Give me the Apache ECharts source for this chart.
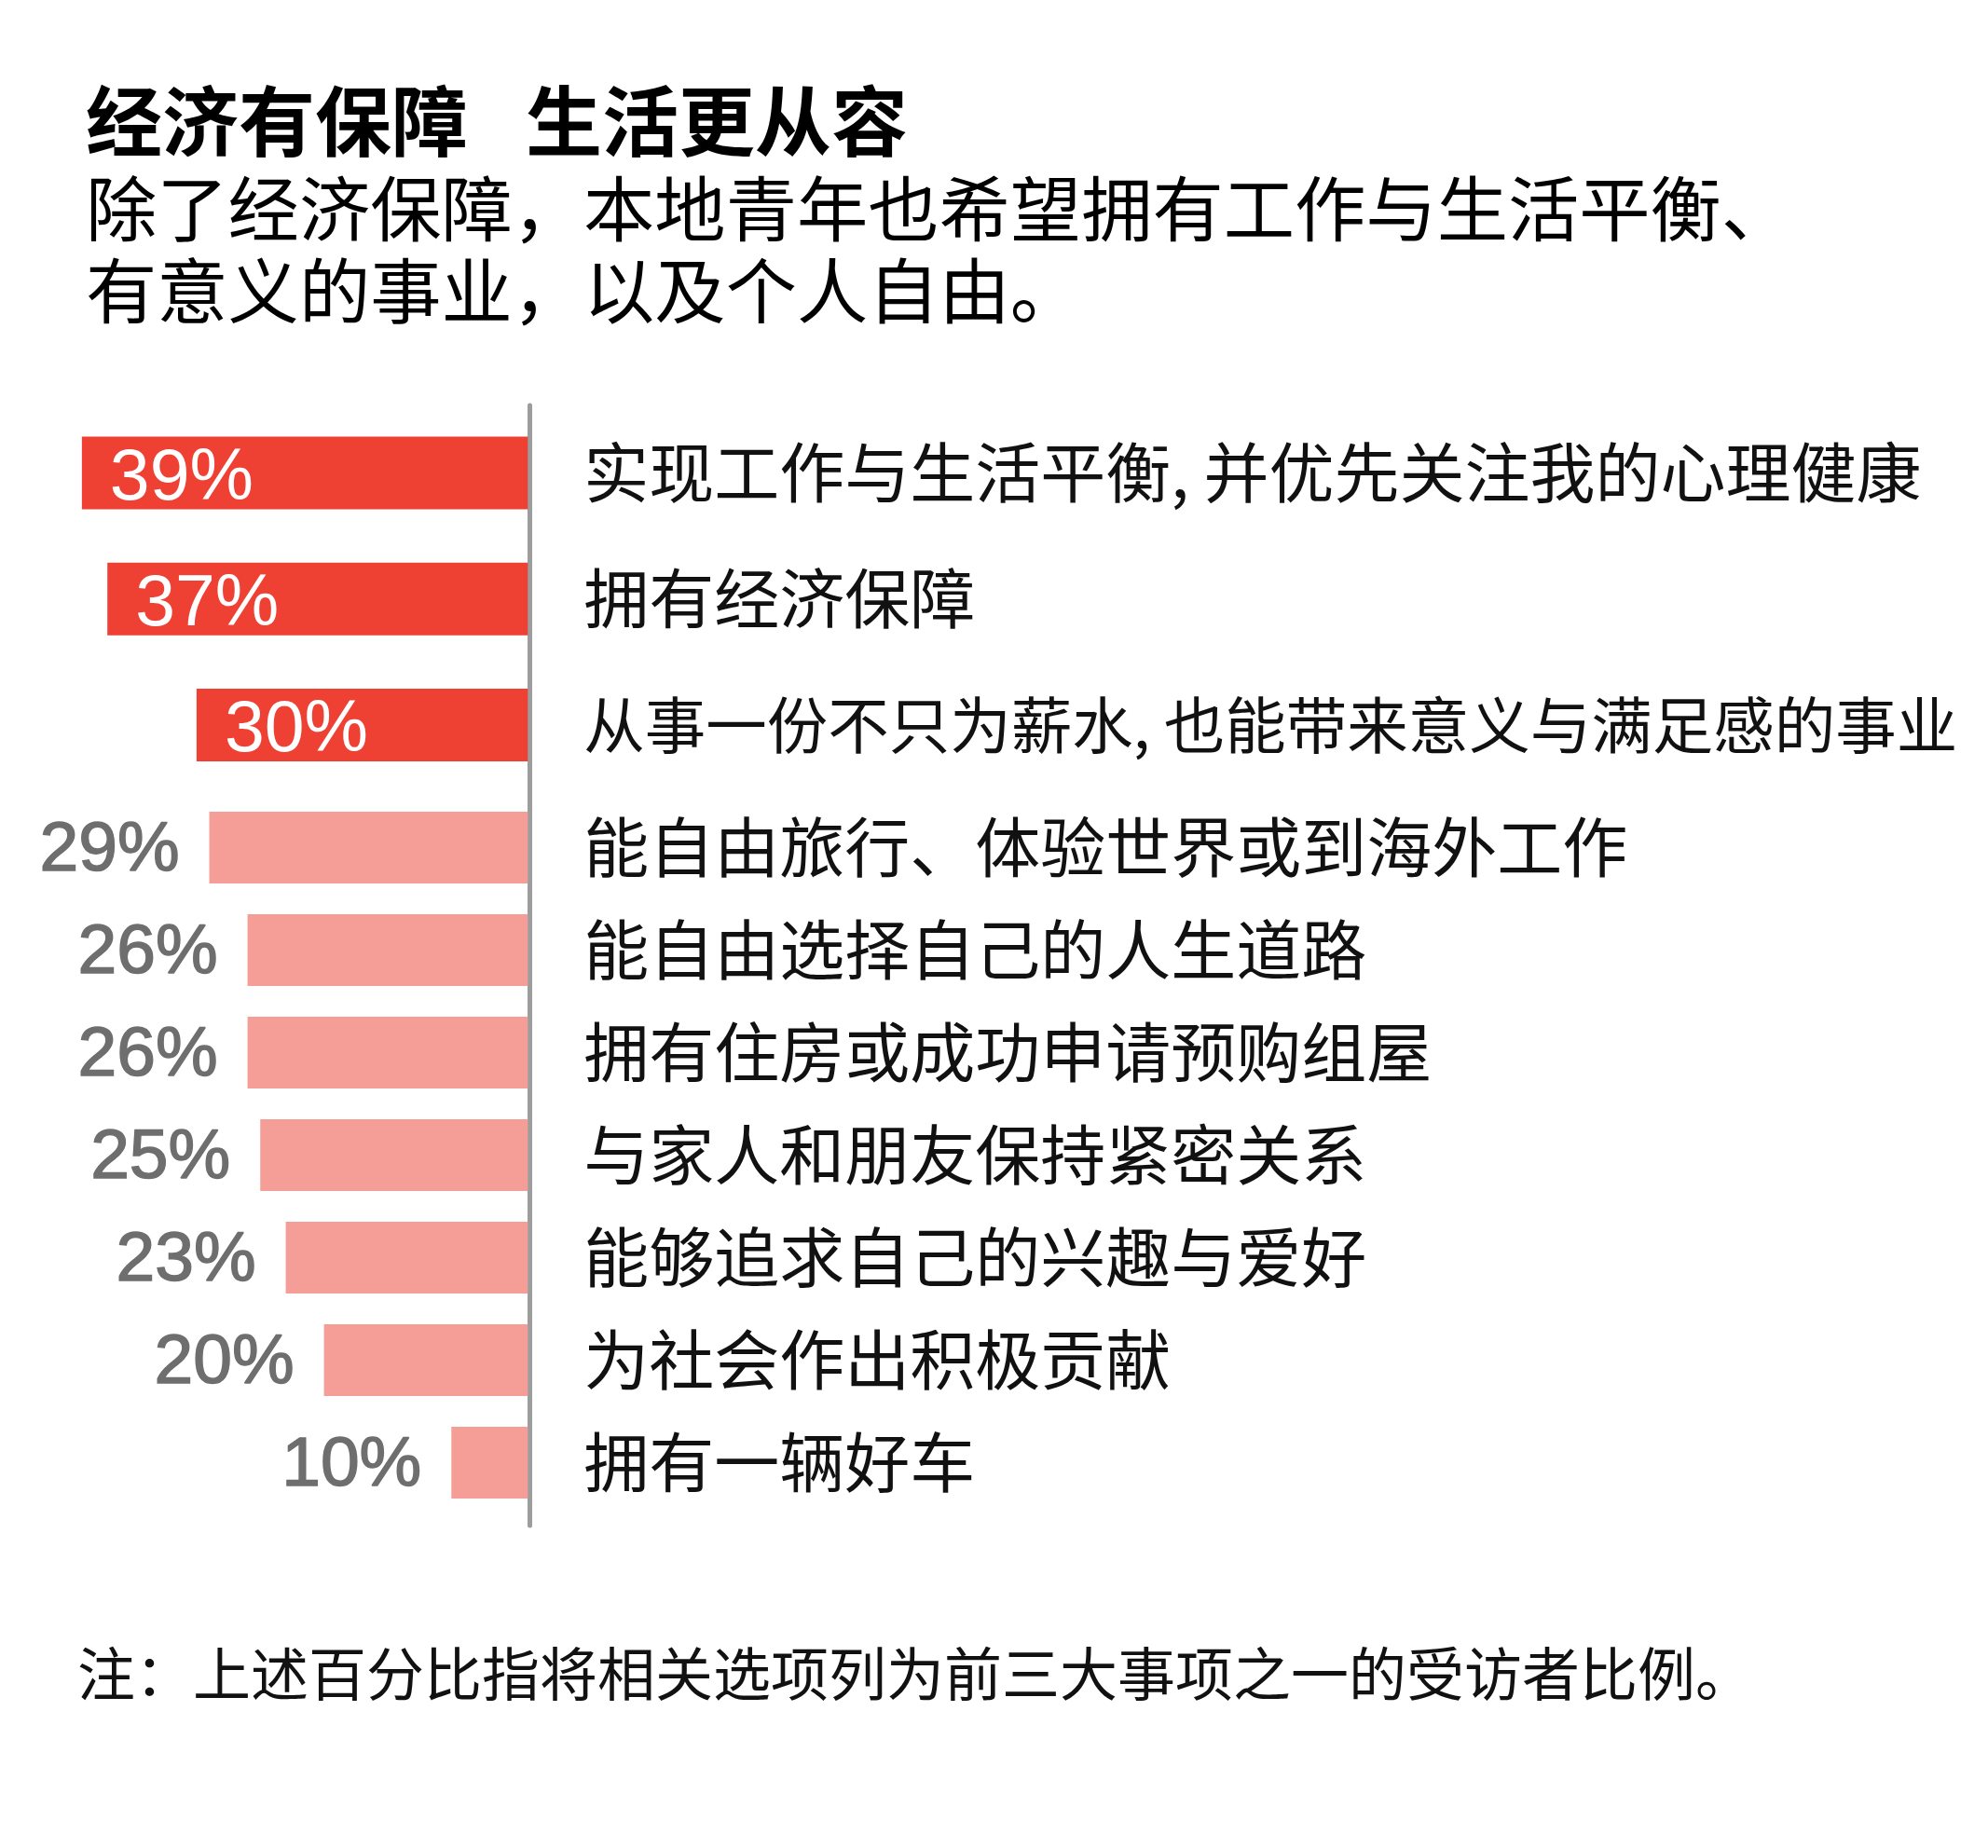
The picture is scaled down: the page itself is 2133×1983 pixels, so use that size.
<!DOCTYPE html>
<html>
<head>
<meta charset="utf-8">
<script src="https://cdn.jsdelivr.net/npm/echarts@6/dist/echarts.min.js"></script>
<style>
  html, body { margin: 0; padding: 0; background: #fff; }
  #main { width: 2133px; height: 1983px; }
</style>
</head>
<body>
<div id="main"></div>
<script>
// top three (highlighted) answers
const topCats = [
  '实现工作与生活平衡, 并优先关注我的心理健康',
  '拥有经济保障',
  '从事一份不只为薪水, 也能带来意义与满足感的事业'
]
const topVals = [39, 37, 30]

// the rest
const restCats = [
  '能自由旅行、体验世界或到海外工作',
  '能自由选择自己的人生道路',
  '拥有住房或成功申请预购组屋',
  '与家人和朋友保持紧密关系',
  '能够追求自己的兴趣与爱好',
  '为社会作出积极贡献',
  '拥有一辆好车'
]
const restVals = [29, 26, 26, 25, 23, 20, 10]

const CJK = '"Noto Sans CJK SC", "Noto Sans", sans-serif'
const LAT = '"Liberation Sans", Arial, sans-serif'
const RED = '#ee4134'
const PINK = '#f59e97'

const chart = echarts.init(document.getElementById('main'), null, { renderer: 'canvas' })

// the longest label is set tighter, like the original
const catData = (cats) => cats.map(c => c.length > 23 ? { value: c, textStyle: { fontSize: 65.5 } } : c)

const xAx = (gi) => ({
  type: 'value', gridIndex: gi, inverse: true, min: 4, max: 40,
  show: false
})

const yAx = (gi, cats) => ({
  type: 'category', gridIndex: gi, position: 'right', inverse: true,
  data: catData(cats),
  axisLine: { show: false }, axisTick: { show: false },
  axisLabel: { margin: 60, fontSize: 70, color: '#111', fontFamily: CJK }
})

chart.setOption({
  backgroundColor: '#fff',
  animation: false,
  title: [
    {
      text: '{a|经济有保障}{g| }{a|生活更从容}',
      left: 92, top: 89, padding: 0,
      textStyle: {
        rich: {
          a: { fontSize: 82, fontWeight: 'bold', color: '#000', lineHeight: 82, fontFamily: CJK },
          g: { width: 62, fontSize: 82, lineHeight: 82 }
        }
      }
    },
    {
      text: '除了经济保障，本地青年也希望拥有工作与生活平衡、\n有意义的事业，以及个人自由。',
      left: 92, top: 180, padding: 0,
      textStyle: { fontSize: 76.3, lineHeight: 88, fontWeight: 'normal', color: '#000', fontFamily: CJK }
    },
    {
      text: '注：上述百分比指将相关选项列为前三大事项之一的受访者比例。',
      left: 83, top: 1765, padding: 0,
      textStyle: { fontSize: 62, lineHeight: 62, fontWeight: 'normal', color: '#111', fontFamily: CJK }
    }
  ],
  grid: [
    { left: 74.2, width: 492.1, top: 440, height: 405.5 },
    { left: 74.2, width: 492.1, top: 854.4, height: 770 },
    // only carries the grey vertical line
    { left: 76.5, width: 492.1, top: 435, height: 1202 }
  ],
  xAxis: [xAx(0), xAx(1), xAx(2)],
  yAxis: [
    yAx(0, topCats),
    yAx(1, restCats),
    {
      type: 'category', gridIndex: 2, position: 'right', data: [''],
      axisLine: { show: true, lineStyle: { color: '#9d9d9d', width: 5 } },
      axisTick: { show: false }, axisLabel: { show: false }
    }
  ],
  series: [
    {
      type: 'bar', xAxisIndex: 0, yAxisIndex: 0, data: topVals,
      barWidth: 78, itemStyle: { color: RED },
      label: {
        show: true, position: 'insideLeft', distance: 30, offset: [0, 7], formatter: '{c}%',
        color: '#fff', fontSize: 77, fontFamily: LAT
      }
    },
    {
      type: 'bar', xAxisIndex: 1, yAxisIndex: 1, data: restVals,
      barWidth: 77, itemStyle: { color: PINK },
      label: {
        show: true, position: 'left', distance: 32, offset: [0, 4], formatter: '{c}%',
        color: '#6e6e6e', fontSize: 75, fontFamily: LAT,
        textBorderColor: '#6e6e6e', textBorderWidth: 1.5
      }
    }
  ]
})
</script>
</body>
</html>
